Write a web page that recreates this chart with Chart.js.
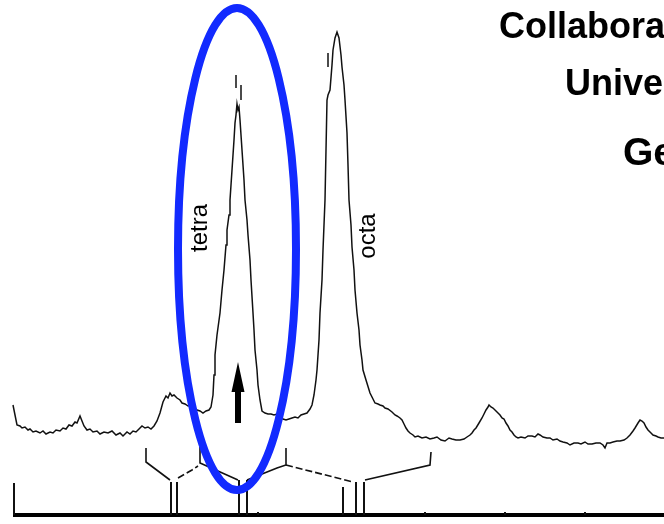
<!DOCTYPE html>
<html>
<head>
<meta charset="utf-8">
<script src="https://cdn.jsdelivr.net/npm/chart.js@4/dist/chart.umd.min.js"></script>
<style>
  html, body { margin: 0; padding: 0; background: #fff; }
  #wrap { width: 664px; height: 524px; position: relative; }
</style>
</head>
<body>
<div id="wrap"><canvas id="spectrum"></canvas></div>
<script>
// channel / signal (signal 0 = the baseline axis)
const specX = [13,15,17,20,22,25,28,30,33,36,40,43,46,50,53,56,60,63,66,69,72,75,77,80,82,84,87,90,93,97,100,104,108,112,116,120,123,127,130,133,136,139,142,145,148,151,154,157,160,163,166,168,170,172,174,177,180,182,185,188,191,194,197,200,203,206,209,211,213,214,215,217,220,222,224,226,227,229,230,232,234,235,236,237,238,239,240,241,242,244,245,247,248,250,251,253,254,255,257,258,260,262,265,268,271,274,277,280,283,286,289,292,295,298,301,304,307,310,312,314,316,317,319,320,322,323,324,325,326,327,328,330,332,333,335,337,339,341,342,344,345,347,348,349,351,352,354,355,357,359,360,362,363,366,370,373,375,378,380,383,385,388,392,395,397,400,402,404,406,408,410,413,415,418,422,426,430,434,437,441,445,449,452,456,460,464,467,470,472,474,476,479,482,484,486,488,489,491,493,496,498,500,502,504,506,508,510,512,514,516,518,521,525,528,532,535,538,540,543,547,550,553,557,560,563,567,570,574,578,581,585,588,592,596,600,603,605,607,610,613,617,620,624,627,630,633,635,638,640,642,644,646,648,651,653,656,658,661,664];
const specY = [110,100,90,89,87,88,85,86,83,84,82,84,81,83,82,85,84,87,86,90,89,93,92,99,94,89,85,86,83,84,81,83,82,84,80,82,79,83,81,84,83,86,89,87,88,86,89,94,102,113,119,117,122,119,120,117,115,112,111,109,110,107,105,104,102,104,105,108,120,140,160,180,202,225,245,270,285,300,315,345,375,392,400,411,405,408,395,380,365,335,315,295,280,255,235,202,185,165,145,130,115,104,102,101,101,100,101,98,96,95,96,97,98,97,100,101,102,106,110,120,135,145,175,202,235,265,290,315,365,415,420,425,450,465,477,483,477,460,448,430,415,382,350,315,290,268,245,225,202,185,170,155,145,135,122,116,112,111,110,109,107,106,103,100,99,97,95,91,87,84,82,80,78,79,77,78,76,77,78,75,74,77,76,75,75,76,78,80,82,85,87,92,97,101,105,108,110,108,107,104,102,100,97,96,92,89,85,83,80,78,77,78,77,79,79,78,81,80,78,77,77,75,76,74,73,72,70,72,72,71,73,71,71,72,72,70,67,72,72,73,74,74,75,77,80,84,87,92,95,94,92,88,85,82,80,79,78,77,77];

// stick diagram: line positions and heights
const stickX = [171, 177, 239, 247, 343, 356, 364];
const stickH = [33, 33, 35, 35, 28, 33, 33];

// bracket outlines (channel, signal)
const bracketSolid = [
  [[146,67],[146,53],[170,35]],
  [[200,68],[200,52],[238,35]],
  [[247,35],[277,47],[286,50],[286,67]],
  [[365,35],[430,50],[431,63]]
];
const bracketDashed = [
  [[178,37],[192,45],[198,49]],
  [[286,50],[353,33]]
];
const peakMarks = [
  [[236,427],[236,440]],
  [[241,415],[241,430]],
  [[328,448],[328,462]]
];

const axisStart = 13, axisEnd = 664;
const axisTicks = [258, 425, 505, 585];

const siteLabels = [
  { text: "tetra", x: 207, y: 287 },
  { text: "octa", x: 375, y: 279 }
];
const ellipse = { cx: 237, cy: 266, rx: 59, ry: 241 };
const arrow = { x: 238, base: 92, headBase: 123, tip: 153 };

function joinSegs(segs) {
  const out = [];
  segs.forEach(function (s, i) {
    if (i > 0) out.push({ x: s[0][0], y: null });
    s.forEach(function (p) { out.push({ x: p[0], y: p[1] }); });
  });
  return out;
}

const specData = specX.map(function (x, i) { return { x: x, y: specY[i] }; });
const stickSegs = stickX.map(function (x, i) { return [[x, 0], [x, stickH[i]]]; });
stickSegs.push([[14, 0], [14, 32]]);
axisTicks.forEach(function (x) { stickSegs.push([[x, 0], [x, 3]]); });

const overlay = {
  id: "overlay",
  afterDatasetsDraw: function (chart) {
    const ctx = chart.ctx;
    const sx = chart.scales.x, sy = chart.scales.y;
    ctx.save();
    // arrow
    const ax = sx.getPixelForValue(arrow.x);
    const yb = sy.getPixelForValue(arrow.base);
    const yh = sy.getPixelForValue(arrow.headBase);
    const yt = sy.getPixelForValue(arrow.tip);
    ctx.fillStyle = "#000";
    ctx.beginPath();
    ctx.moveTo(ax - 3, yb);
    ctx.lineTo(ax - 3, yh);
    ctx.lineTo(ax - 6.5, yh);
    ctx.lineTo(ax, yt);
    ctx.lineTo(ax + 6.5, yh);
    ctx.lineTo(ax + 3, yh);
    ctx.lineTo(ax + 3, yb);
    ctx.closePath();
    ctx.fill();

    // site labels
    ctx.font = "24px 'Liberation Sans', Arial, sans-serif";
    ctx.textAlign = "center";
    ctx.textBaseline = "alphabetic";
    siteLabels.forEach(function (l) {
      ctx.save();
      ctx.translate(sx.getPixelForValue(l.x), sy.getPixelForValue(l.y));
      ctx.rotate(-Math.PI / 2);
      ctx.fillText(l.text, 0, 0);
      ctx.restore();
    });

    // blue ellipse round the tetra peak
    const cx = sx.getPixelForValue(ellipse.cx), cy = sy.getPixelForValue(ellipse.cy);
    const rx = Math.abs(sx.getPixelForValue(ellipse.cx + ellipse.rx) - cx);
    const ry = Math.abs(sy.getPixelForValue(ellipse.cy + ellipse.ry) - cy);
    ctx.strokeStyle = "rgb(18,42,255)";
    ctx.lineWidth = 8;
    ctx.beginPath();
    ctx.ellipse(cx, cy, rx, ry, 0, 0, Math.PI * 2);
    ctx.stroke();

    // slide heading (cut by the right edge)
    ctx.fillStyle = "#000";
    ctx.textAlign = "left";
    ctx.font = "bold 36px 'Liberation Sans', Arial, sans-serif";
    ctx.fillText("Collabora", 499, 38);
    ctx.fillText("Unive", 565, 95);
    ctx.font = "bold 39px 'Liberation Sans', Arial, sans-serif";
    ctx.fillText("Ge", 623, 165);
    ctx.restore();
  }
};

new Chart("spectrum", {
  type: "scatter",
  data: {
    datasets: [
      { data: specData, showLine: true, borderColor: "#111", borderWidth: 1.5, pointRadius: 0, spanGaps: false },
      { data: joinSegs(bracketSolid), showLine: true, borderColor: "#111", borderWidth: 1.6, pointRadius: 0, spanGaps: false },
      { data: joinSegs(bracketDashed), showLine: true, borderColor: "#111", borderWidth: 1.6, borderDash: [7, 3], pointRadius: 0, spanGaps: false },
      { data: joinSegs(stickSegs), showLine: true, borderColor: "#111", borderWidth: 2, pointRadius: 0, spanGaps: false },
      { data: joinSegs(peakMarks), showLine: true, borderColor: "#111", borderWidth: 1.5, pointRadius: 0, spanGaps: false },
      { data: [{ x: axisStart, y: 0 }, { x: axisEnd, y: 0 }], showLine: true, borderColor: "#000", borderWidth: 4, pointRadius: 0 }
    ]
  },
  options: {
    responsive: true,
    maintainAspectRatio: false,
    animation: false,
    layout: { padding: 0 },
    plugins: { legend: { display: false }, tooltip: { enabled: false } },
    scales: {
      x: { type: "linear", min: 0, max: 664, display: false },
      y: { type: "linear", min: -9, max: 515, display: false }
    }
  },
  plugins: [overlay]
});
</script>
</body>
</html>
